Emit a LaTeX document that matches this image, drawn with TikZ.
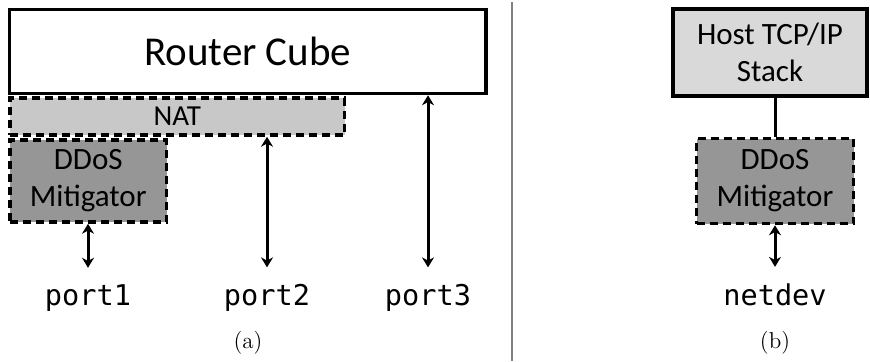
\documentclass[tikz,border=0pt]{standalone}
\usepackage{fontspec}
\newfontfamily\boxfont{Carlito}
\newfontfamily\portfont{DejaVu Sans Mono}
\usepackage{tikz}
\usetikzlibrary{arrows.meta,positioning}
\definecolor{natfill}{RGB}{200,200,200}
\definecolor{ddosfill}{RGB}{150,150,150}
\definecolor{hostfill}{RGB}{217,217,217}

\begin{document}
\begin{tikzpicture}[x=0.5pt, y=-0.5pt,
    box/.style={draw, line width=1.75pt, inner sep=0pt, align=center,
        font=\boxfont\fontsize{15.5}{18.5}\selectfont},
    dashbox/.style={box, dash pattern=on 4pt off 2.5pt},
    portlbl/.style={font=\portfont\fontsize{14.3}{17}\selectfont, inner xsep=0pt, inner ysep=8pt},
    link/.style={line width=1.5pt, {Stealth[length=5pt,width=6pt]}-{Stealth[length=5pt,width=6pt]}}]

    \useasboundingbox (0,0) rectangle (870,361);

    % (a) Router Cube
    \node[box, fill=white, minimum width=238.25pt, minimum height=42pt,
        font=\boxfont\fontsize{20.5}{24}\selectfont] (router) at (247.75,51.5) {Router Cube};
    \node[dashbox, fill=natfill, minimum width=167.25pt, minimum height=18.5pt,
        font=\boxfont\fontsize{14.5}{17}\selectfont] (nat) at (177.25,116.5) {NAT};
    \node[dashbox, fill=ddosfill, minimum width=78.25pt, minimum height=41pt] (ddosA) at (88.25,181) {DDoS\\Mitigator};

    % Ports
    \node[portlbl, anchor=base] (port1) at (88,305) {port1};
    \node[portlbl, anchor=base] (port2) at (267,305) {port2};
    \node[portlbl, anchor=base] (port3) at (428,305) {port3};

    \draw[link] (ddosA.south -| port1) -- (port1.north);
    \draw[link] (port2.north |- nat.south) -- (port2.north);
    \draw[link] (port3.north |- router.south) -- (port3.north);

    \node (capA) at (248,343) {\fontsize{11.5}{13}\selectfont (a)};

    % Separator
    \draw[gray, line width=1pt] (512,2) -- (512,361);

    % (b) Host stack
    \node[box, fill=hostfill, minimum width=97pt, minimum height=43.5pt] (host) at (770,52.5) {Host TCP/IP\\Stack};
    \node[dashbox, fill=ddosfill, minimum width=78.5pt, minimum height=42.5pt] (ddosB) at (775,181) {DDoS\\Mitigator};
    \node[portlbl, anchor=base] (netdev) at (775,305) {netdev};

    \draw[line width=1.5pt] (ddosB.north) -- (ddosB.north |- host.south);
    \draw[link] (ddosB.south) -- (netdev.north);

    \node (capB) at (775,343) {\fontsize{11.5}{13}\selectfont (b)};

\end{tikzpicture}
\end{document}
